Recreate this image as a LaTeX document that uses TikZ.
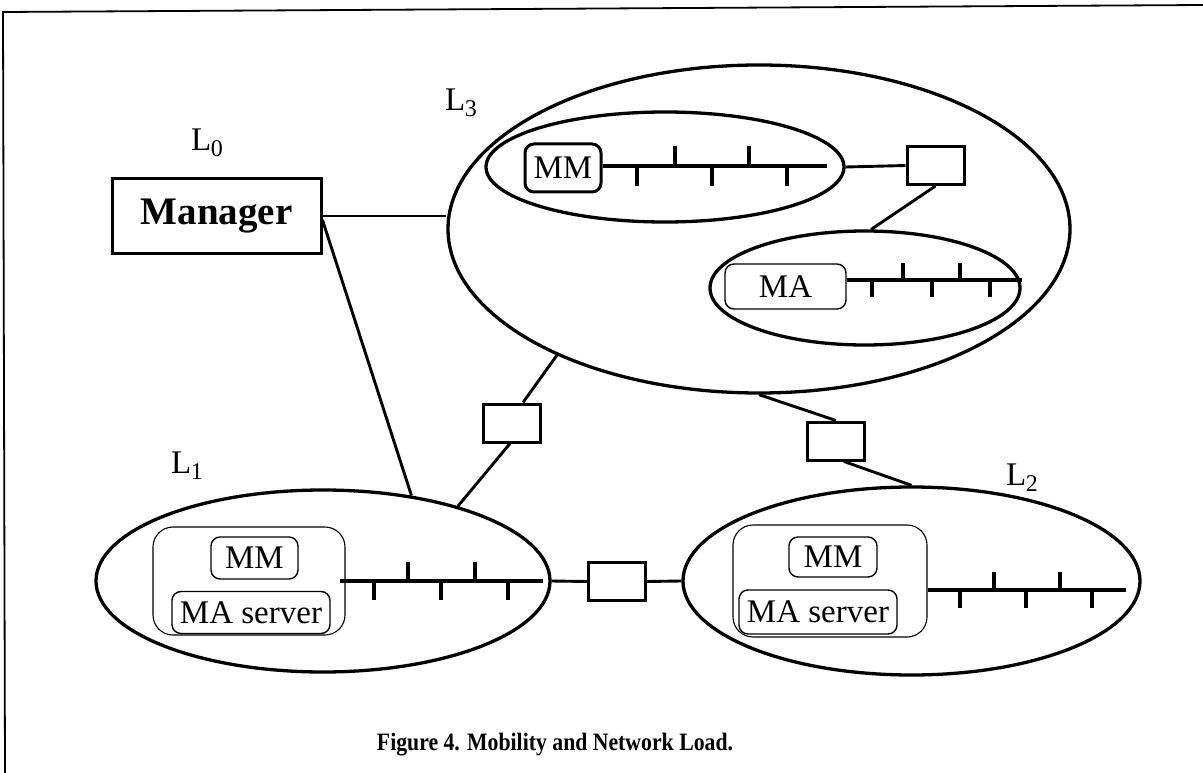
\documentclass[tikz,border=0pt]{standalone}
\usepackage{fontspec}
\setmainfont{Liberation Serif}
\usetikzlibrary{shapes.geometric}

\newcommand{\lvl}[1]{L\kern-0.5pt\raisebox{-6pt}{\fontsize{24}{24}\selectfont #1}}

\tikzset{
  net/.style={draw, ellipse, line width=3.3pt, inner sep=0pt},
  link/.style={line width=2.9pt},
  relay/.style={draw, line width=3pt, minimum width=57pt, minimum height=38pt, inner sep=0pt},
  bus/.style={line width=3.2pt},
  agent/.style={draw, rounded corners=9pt, line width=1.4pt, inner sep=0pt,
                font=\fontsize{33}{36}\selectfont},
  host/.style={draw, rounded corners=20pt, line width=1.1pt, inner sep=0pt},
  lvltxt/.style={font=\fontsize{33}{36}\selectfont, inner sep=0pt}
}

\begin{document}
\begin{tikzpicture}[x=1pt, y=-1pt]
\useasboundingbox (0,0) rectangle (1203,773);

% outer frame
\draw[line width=1.8pt] (1203,5) -- (3,12) -- (5,773);

% level labels
\node[lvltxt] (l0) at (207,143) {\lvl{0}};
\node[lvltxt] (l3) at (461,103) {\lvl{3}};
\node[lvltxt] (l1) at (187,466) {\lvl{1}};
\node[lvltxt] (l2) at (1022,478) {\lvl{2}};

% manager
\node[draw, line width=3pt, minimum width=209pt, minimum height=74pt, inner sep=0pt,
      font=\bfseries\fontsize{39}{42}\selectfont] (mgr) at (216.5,216) {Manager};

% level 3 network
\node[net, minimum width=622pt, minimum height=328pt] (L3) at (759,229) {};
\node[net, minimum width=358pt, minimum height=110pt] (mmnet) at (665,167) {};
\node[agent, line width=3pt, minimum width=76pt, minimum height=48pt] (mm3) at (563,168) {MM};
\draw[bus] (mm3.east |- 0,166) -- (827,166);
\foreach \x in {675,749} \draw[bus] (\x,166) -- (\x,146);
\foreach \x in {637,712,787} \draw[bus] (\x,166) -- (\x,186);

\node[relay] (r3) at (935.5,165.5) {};
\draw[link] (mmnet.east) -- (r3.west);

\node[net, minimum width=310pt, minimum height=114pt] (manet) at (865,288) {};
\node[agent, minimum width=121pt, minimum height=45pt] (ma3) at (785.5,286.5) {MA};
\draw[bus] (ma3.east |- 0,280) -- (manet.east |- 0,280);
\foreach \x in {903,960} \draw[bus] (\x,280) -- (\x,263);
\foreach \x in {872,932,990} \draw[bus] (\x,280) -- (\x,297);
\draw[link] (r3.south) -- (manet.84);

% level 1 network
\node[net, minimum width=454pt, minimum height=182pt] (L1) at (323,581) {};
\node[host, minimum width=192pt, minimum height=108pt] (h1) at (249,581) {};
\node[agent, minimum width=87pt, minimum height=42pt] (mm1) at (254.5,558) {MM};
\node[agent, minimum width=158pt, minimum height=42pt] (mas1) at (251,612.5) {MA server};
\draw[bus] (340,581) -- (543,581);
\foreach \x in {408,475} \draw[bus] (\x,581) -- (\x,562);
\foreach \x in {374,441,508} \draw[bus] (\x,581) -- (\x,600);

% level 2 network
\node[net, minimum width=457pt, minimum height=188pt] (L2) at (911.5,581) {};
\node[host, minimum width=194pt, minimum height=112pt] (h2) at (830,581) {};
\node[agent, minimum width=88pt, minimum height=40pt] (mm2) at (833,557) {MM};
\node[agent, minimum width=158pt, minimum height=44pt] (mas2) at (818,612) {MA server};
\draw[bus] (h2.east |- 0,590) -- (1126,590);
\foreach \x in {994,1060} \draw[bus] (\x,590) -- (\x,572);
\foreach \x in {960,1026,1092} \draw[bus] (\x,590) -- (\x,608);

% relays between levels
\node[relay] (r13) at (512,423) {};
\node[relay] (r23) at (836,441) {};
\node[relay] (r12) at (617,581.5) {};

% links
\draw[link] (mgr.east) -- (mgr.east -| L3.west);
\draw[link] ([yshift=-4pt]mgr.east) -- (L1.44.7);
\draw[link] (L3.212.5) -- ([xshift=11pt]r13.north);
\draw[link] ([xshift=-2pt]r13.south) -- (L1.29.2);
\draw[link] (L3.south) -- (r23.north);
\draw[link] ([xshift=8pt]r23.south) -- (L2.north);
\draw[link] (L1.east) -- (r12.west);
\draw[link] (r12.east) -- (L2.west);

% caption
\node[font=\bfseries\fontsize{25}{28}\selectfont, inner sep=0pt] (cap) at (555,745)
  {\scalebox{0.87}[1]{Figure 4. Mobility and Network Load.}};
\end{tikzpicture}
\end{document}
